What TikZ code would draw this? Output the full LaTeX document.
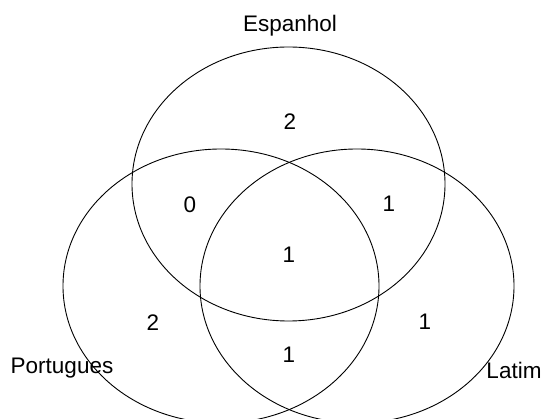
\documentclass[tikz,border=0pt]{standalone}
\usepackage{fontspec}
\setmainfont{Liberation Sans}
\begin{document}
\begin{tikzpicture}[x=1pt,y=-1pt,
  setring/.style={draw=black,line width=0.9pt},
  lbl/.style={font=\fontsize{22.5}{26}\selectfont,inner sep=0pt}]
\useasboundingbox (0,0) rectangle (544,419);
\begin{scope}
\clip (0,0) rectangle (544,419);
\draw[setring] (288.5,184) ellipse [x radius=156.5, y radius=137];
\draw[setring] (221,286) ellipse [x radius=158, y radius=137];
\draw[setring] (357,286) ellipse [x radius=157, y radius=137];
\end{scope}
\node[lbl] (esp) at (290,26) {Espanhol};
\node[lbl] (por) at (62,368) {Portugues};
\node[lbl] (lat) at (514,370) {Latim};
\node[lbl] (eonly) at (290,122) {2};
\node[lbl] (ep) at (190,205) {0};
\node[lbl] (el) at (389,204) {1};
\node[lbl] (epl) at (289,255) {1};
\node[lbl] (ponly) at (153,323) {2};
\node[lbl] (lonly) at (425,322) {1};
\node[lbl] (pl) at (289,355) {1};
\end{tikzpicture}
\end{document}
